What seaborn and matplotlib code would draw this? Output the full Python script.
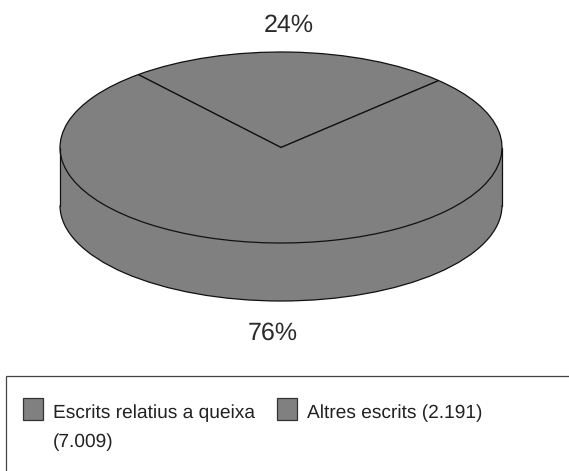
import matplotlib
matplotlib.use('Agg')
import matplotlib.pyplot as plt
from matplotlib.patches import Rectangle, Arc
import seaborn as sns

labels = ['Escrits relatius a queixa\n(7.009)', 'Altres escrits (2.191)']
values = [7009, 2191]
pct_labels = ['76%', '24%']

W, H = 569, 471
grey = '#808080'
edge = '#111111'

sns.set_theme(style='white')
plt.rcParams['font.family'] = ['Liberation Sans', 'DejaVu Sans']
plt.rcParams['text.hinting'] = 'no_hinting'

fig = plt.figure(figsize=(W / 100, H / 100), dpi=100, facecolor='white')

# axes spans the top ellipse plus the depth of the disc, y data is squashed
rx, ry = 221, 95.5
cx, cy = 281, 147.5
depth = 58 / ry
ax = fig.add_axes([(cx - rx) / W, 1 - (cy + ry + 60) / H, 2 * rx / W, (2 * ry + 60) / H])

start = 44.5

# side of the disc first, then the top on it
ax.pie([sum(values)], colors=[grey], center=(0, -depth), radius=1, wedgeprops={'linewidth': 0})
ax.fill_between([-1, 1], -depth, 0, color=grey, linewidth=0)
ax.plot([-1, -1], [-depth, 0], color=edge, lw=0.9, clip_on=False, solid_capstyle='round')
ax.plot([1, 1], [-depth, 0], color=edge, lw=0.9, clip_on=False, solid_capstyle='round')
ax.add_patch(Arc((0, -depth), 2, 2, theta1=180, theta2=360, color=edge, lw=0.9))
wedges, _ = ax.pie(values[::-1], colors=[grey, grey], center=(0, 0), radius=1, startangle=start,
                   wedgeprops={'linewidth': 0.9, 'edgecolor': edge})
ax.set_aspect('auto')
ax.set_xlim(-1, 1)
ax.set_ylim(-1 - 60 / ry, 1)
for p in ax.patches:
    p.set_clip_on(False)

# percent labels
fig.text(289 / W, 1 - 25 / H, pct_labels[1], ha='center', va='center', fontsize=18, color='#2a2a2a')
fig.text(273 / W, 1 - 333 / H, pct_labels[0], ha='center', va='center', fontsize=18, color='#2a2a2a')

# legend box runs off the right and bottom of the image
fig.add_artist(Rectangle((6 / W, -20 / H), 600 / W, (H - 376 + 20) / H, transform=fig.transFigure,
                         facecolor='white', edgecolor='#444444', linewidth=0.9))

# drawn by hand, the label wraps but the swatch stays on the first line
swatch_x = [23, 277]
for x, lab in zip(swatch_x, labels):
    fig.add_artist(Rectangle((x / W, 1 - 419.5 / H), 20 / W, 22 / H, transform=fig.transFigure,
                             facecolor=grey, edgecolor='#333333', linewidth=0.9))
    lines = lab.split('\n')
    fig.text((x + 30) / W, 1 - 418.5 / H, lines[0], ha='left', va='baseline', fontsize=13.8, color='#222222')
    if len(lines) > 1:
        fig.text((x + 30) / W, 1 - 447 / H, lines[1], ha='left', va='baseline', fontsize=13.8, color='#222222')

fig.savefig('out.png', dpi=100)
